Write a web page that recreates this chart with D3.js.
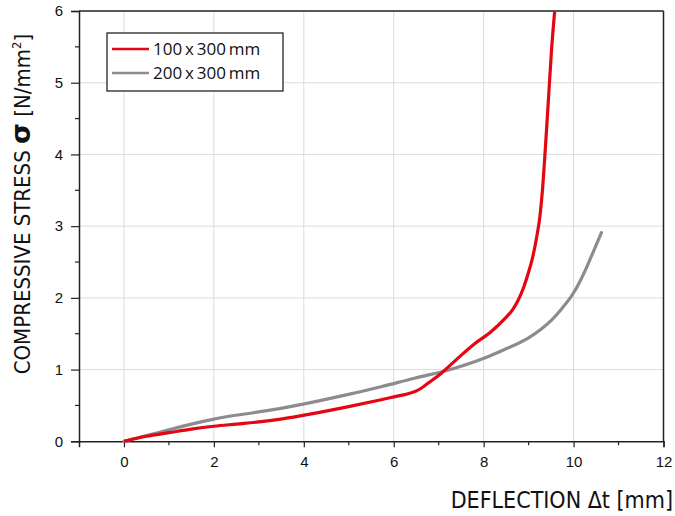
<!DOCTYPE html>
<html><head><meta charset="utf-8">
<script src="https://cdn.jsdelivr.net/npm/d3@7"></script>
<style>body{margin:0;background:#fff;}</style>
</head><body><svg id="c" width="675" height="516"></svg>
<script>
const xTicks = [0,2,4,6,8,10,12];
const yTicks = [0,1,2,3,4,5,6];
const seriesNames = ["100\u2009x\u2009300\u2009mm","200\u2009x\u2009300\u2009mm"];
const seriesColors = ["#e30613","#8c8c8e"];
const redX = [0,0.5,1,1.5,2,2.5,3,3.49,4.23,4.97,5.72,6.01,6.3,6.46,6.61,6.76,7.06,7.43,7.8,8.17,8.47,8.65,8.77,8.88,8.99,9.08,9.18,9.25,9.32,9.38,9.44,9.51,9.58];
const redY = [0,0.07,0.12,0.17,0.21,0.24,0.27,0.31,0.39,0.48,0.58,0.62,0.66,0.69,0.74,0.81,0.95,1.16,1.36,1.53,1.71,1.84,1.97,2.13,2.34,2.54,2.85,3.13,3.6,4.16,4.76,5.46,6.0];
const grayX = [0,0.5,1,1.5,2,3,3.49,4.23,4.97,5.72,6.46,7.2,8.02,8.5,8.99,9.29,9.51,9.75,9.96,10.15,10.3,10.45,10.62];
const grayY = [0,0.08,0.16,0.24,0.31,0.41,0.46,0.55,0.65,0.76,0.88,0.99,1.16,1.29,1.44,1.57,1.69,1.86,2.03,2.24,2.44,2.66,2.91];

const svg = d3.select("#c");
const L=79, R=663.5, T=11, B=441.3;
const x = d3.scaleLinear().domain([-1,12]).range([L,R]);
const y = d3.scaleLinear().domain([0,6]).range([B,T]);

// grid
const g = svg.append("g");
g.selectAll("line.vx").data(xTicks.filter(d=>d>=0&&d<12)).enter().append("line")
 .attr("x1",d=>x(d)).attr("x2",d=>x(d)).attr("y1",T).attr("y2",B)
 .attr("stroke","#dcdcdc").attr("stroke-width",1);
g.selectAll("line.hy").data(yTicks.filter(d=>d>0&&d<6)).enter().append("line")
 .attr("x1",L).attr("x2",R).attr("y1",d=>y(d)).attr("y2",d=>y(d))
 .attr("stroke","#dcdcdc").attr("stroke-width",1);

// frame top/right
svg.append("line").attr("x1",L).attr("x2",R).attr("y1",T).attr("y2",T).attr("stroke","#222").attr("stroke-width",1.5);
svg.append("line").attr("x1",R).attr("x2",R).attr("y1",T).attr("y2",B).attr("stroke","#222").attr("stroke-width",1.5);

// axes
const fontT = "'Liberation Sans', Arial, sans-serif";
const xAx = svg.append("g").attr("transform",`translate(0,${B})`)
 .call(d3.axisBottom(x).tickValues(xTicks).tickSize(6).tickPadding(9).tickFormat(d3.format("d")));
const yAx = svg.append("g").attr("transform",`translate(${L},0)`)
 .call(d3.axisLeft(y).tickValues(yTicks).tickSize(8).tickPadding(8).tickFormat(d3.format("d")));
[xAx,yAx].forEach(a=>{
  a.select(".domain").attr("stroke","#222").attr("stroke-width",1.5);
  a.selectAll(".tick line").attr("stroke","#222").attr("stroke-width",1.2);
  a.selectAll("text").attr("font-family",fontT).attr("font-size",15).attr("fill","#111");
});
// minor ticks
svg.append("g").selectAll("line").data(d3.range(1,12,2)).enter().append("line")
 .attr("x1",d=>x(d)).attr("x2",d=>x(d)).attr("y1",B).attr("y2",B+4).attr("stroke","#222").attr("stroke-width",1.2);
svg.append("g").selectAll("line").data(d3.range(0.5,6,1)).enter().append("line")
 .attr("x1",L-4).attr("x2",L).attr("y1",d=>y(d)).attr("y2",d=>y(d)).attr("stroke","#222").attr("stroke-width",1.2);

// curves
const line = d3.line().x(d=>x(d[0])).y(d=>y(d[1])).curve(d3.curveMonotoneX);
const grayData = grayX.map((v,i)=>[v,grayY[i]]);
const redData = redX.map((v,i)=>[v,redY[i]]);
svg.append("path").datum(grayData).attr("d",line).attr("fill","none").attr("stroke",seriesColors[1]).attr("stroke-width",3.2).attr("stroke-linecap","round");
svg.append("path").datum(redData).attr("d",line).attr("fill","none").attr("stroke",seriesColors[0]).attr("stroke-width",3.2);

// legend
const lg = svg.append("g");
lg.append("rect").attr("x",107).attr("y",33).attr("width",176).attr("height",58).attr("fill","#fff").attr("stroke","#111").attr("stroke-width",1.2);
seriesNames.forEach((n,i)=>{
  const yy = 49 + i*24;
  lg.append("line").attr("x1",112).attr("x2",149).attr("y1",yy).attr("y2",yy).attr("stroke",seriesColors[i]).attr("stroke-width",2.5);
  lg.append("text").attr("x",153).attr("y",yy+6).text(n).attr("font-family","'Open Sans','Liberation Sans',sans-serif").attr("font-size",17).attr("fill","#111");
});

// titles
const fontN = "'Liberation Sans Narrow','DejaVu Sans Condensed',sans-serif";
const yt = svg.append("text").attr("transform","translate(30,204) rotate(-90)").attr("text-anchor","middle")
 .attr("font-family",fontN).attr("font-size",22).attr("fill","#111");
yt.append("tspan").text("COMPRESSIVE STRESS ");
yt.append("tspan").text("σ").attr("font-weight","bold").attr("font-size",27).attr("font-family","'DejaVu Sans',sans-serif");
yt.append("tspan").text(" [N/mm");
yt.append("tspan").text("2").attr("font-size",13).attr("dy",-9);
yt.append("tspan").text("]").attr("dy",9);
svg.append("text").attr("x",673).attr("y",508).attr("text-anchor","end").attr("font-family",fontN).attr("font-size",23).attr("fill","#111").text("DEFLECTION Δt [mm]");
</script></body></html>
